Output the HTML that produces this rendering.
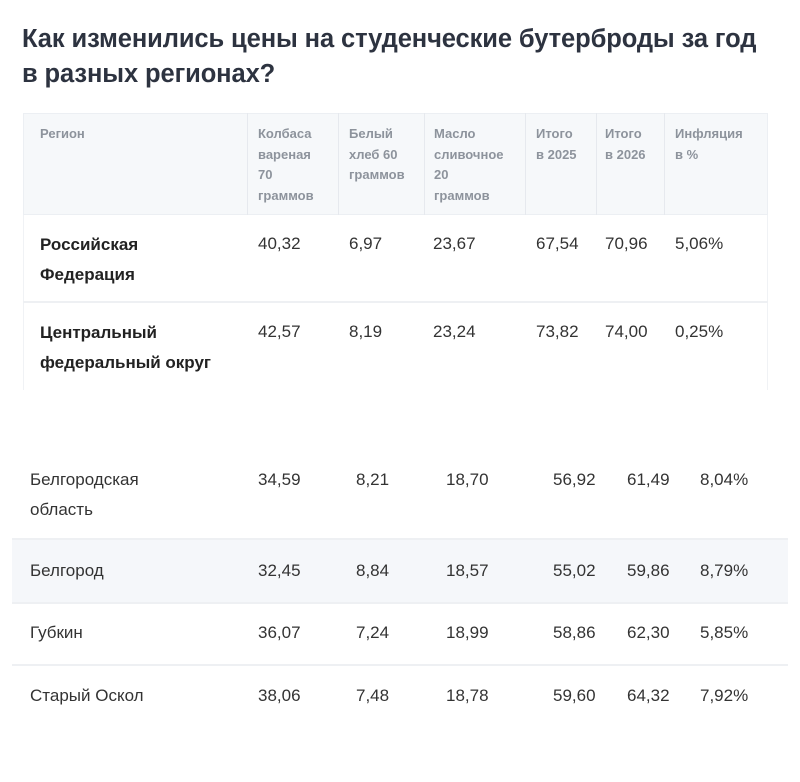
<!DOCTYPE html>
<html><head><meta charset="utf-8"><style>
body{margin:0;background:#fff;width:800px;height:782px;position:relative;font-family:"Liberation Sans","DejaVu Sans",sans-serif;color:#2b2f38;overflow:hidden}
h1{position:absolute;left:22px;top:22px;margin:0;font-size:25.5px;line-height:35px;font-weight:bold;color:#2d3340;width:775px;letter-spacing:-0.1px}
.a{position:absolute;white-space:nowrap}
.hd{position:absolute;left:23px;top:113px;width:745px;height:102px;background:#f6f8fa;border:1px solid #eceff3;box-sizing:border-box}
.vl{position:absolute;top:113px;height:102px;width:1px;background:#e6e9ee}
.h{position:absolute;top:124px;font-size:13px;line-height:20.5px;font-weight:bold;color:#8d939c}
.d{position:absolute;font-size:17px;line-height:30px;color:#333}
.b{font-weight:bold;font-size:17px;line-height:30px;color:#222}
.hl{position:absolute;height:2px;background:#eef0f3}
</style></head><body>
<h1>Как изменились цены на студенческие бутерброды за год<br>в разных регионах?</h1>
<div class="hd"></div>
<div class="vl" style="left:247px"></div><div class="vl" style="left:338px"></div><div class="vl" style="left:424px"></div><div class="vl" style="left:525px"></div><div class="vl" style="left:596px"></div><div class="vl" style="left:664px"></div>
<div style="position:absolute;left:23px;top:215px;width:1px;height:175px;background:#f0f2f5"></div>
<div style="position:absolute;left:767px;top:215px;width:1px;height:175px;background:#f0f2f5"></div>
<div class="h" style="left:40px">Регион</div>
<div class="h" style="left:258px">Колбаса<br>вареная<br>70<br>граммов</div>
<div class="h" style="left:349px">Белый<br>хлеб 60<br>граммов</div>
<div class="h" style="left:434px">Масло<br>сливочное<br>20<br>граммов</div>
<div class="h" style="left:536px">Итого<br>в 2025</div>
<div class="h" style="left:605px">Итого<br>в 2026</div>
<div class="h" style="left:675px">Инфляция<br>в %</div>
<div class="hl" style="left:23px;top:301px;width:745px"></div>

<div class="a b" style="left:40px;top:230px">Российская<br>Федерация</div>
<div class="a d" style="top:229px;left:258px">40,32</div><div class="a d" style="top:229px;left:349px">6,97</div><div class="a d" style="top:229px;left:433px">23,67</div><div class="a d" style="top:229px;left:536px">67,54</div><div class="a d" style="top:229px;left:605px">70,96</div><div class="a d" style="top:229px;left:675px">5,06%</div>

<div class="a b" style="left:40px;top:318px">Центральный<br>федеральный округ</div>
<div class="a d" style="top:317px;left:258px">42,57</div><div class="a d" style="top:317px;left:349px">8,19</div><div class="a d" style="top:317px;left:433px">23,24</div><div class="a d" style="top:317px;left:536px">73,82</div><div class="a d" style="top:317px;left:605px">74,00</div><div class="a d" style="top:317px;left:675px">0,25%</div>

<div style="position:absolute;left:12px;top:539px;width:776px;height:64px;background:#f5f7fa"></div>
<div class="hl" style="left:12px;top:538px;width:776px"></div>
<div class="hl" style="left:12px;top:602px;width:776px"></div>
<div class="hl" style="left:12px;top:664px;width:776px"></div>

<div class="a d" style="left:30px;top:465px">Белгородская<br>область</div>
<div class="a d" style="top:465px;left:258px">34,59</div><div class="a d" style="top:465px;left:356px">8,21</div><div class="a d" style="top:465px;left:446px">18,70</div><div class="a d" style="top:465px;left:553px">56,92</div><div class="a d" style="top:465px;left:627px">61,49</div><div class="a d" style="top:465px;left:700px">8,04%</div>

<div class="a d" style="left:30px;top:556px">Белгород</div>
<div class="a d" style="top:556px;left:258px">32,45</div><div class="a d" style="top:556px;left:356px">8,84</div><div class="a d" style="top:556px;left:446px">18,57</div><div class="a d" style="top:556px;left:553px">55,02</div><div class="a d" style="top:556px;left:627px">59,86</div><div class="a d" style="top:556px;left:700px">8,79%</div>

<div class="a d" style="left:30px;top:618px">Губкин</div>
<div class="a d" style="top:618px;left:258px">36,07</div><div class="a d" style="top:618px;left:356px">7,24</div><div class="a d" style="top:618px;left:446px">18,99</div><div class="a d" style="top:618px;left:553px">58,86</div><div class="a d" style="top:618px;left:627px">62,30</div><div class="a d" style="top:618px;left:700px">5,85%</div>

<div class="a d" style="left:30px;top:681px">Старый Оскол</div>
<div class="a d" style="top:681px;left:258px">38,06</div><div class="a d" style="top:681px;left:356px">7,48</div><div class="a d" style="top:681px;left:446px">18,78</div><div class="a d" style="top:681px;left:553px">59,60</div><div class="a d" style="top:681px;left:627px">64,32</div><div class="a d" style="top:681px;left:700px">7,92%</div>
</body></html>
